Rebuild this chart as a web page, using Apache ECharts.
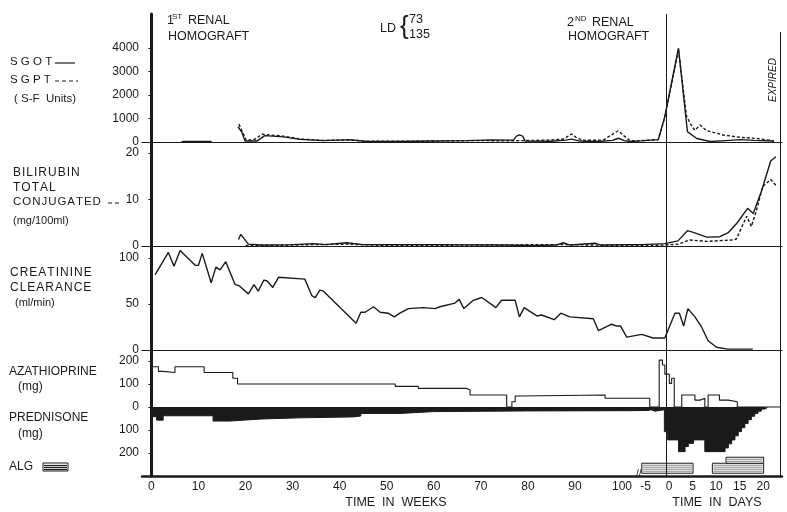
<!DOCTYPE html>
<html>
<head>
<meta charset="utf-8">
<script src="https://cdn.jsdelivr.net/npm/echarts@6/dist/echarts.min.js"></script>
<style>
html,body{margin:0;padding:0;background:#fff;}
#chart{width:787px;height:512px;}
</style>
</head>
<body>
<div id="chart"></div>
<script>
// the day scale follows the week scale: day d sits at DAY0 + d
var DAY0 = 110;

var weekTicks = [0, 10, 20, 30, 40, 50, 60, 70, 80, 90, 100];
var dayTicks = [-5, 0, 5, 10, 15, 20];

// SGOT / SGPT (S-F units)
var sgotWeeks = [[6.4,20],[12.8,20],[15,'-'],[18.4,650],[19.2,420],[19.9,40],[22.4,40],[24.1,270],[28,220],[31.6,110],[36.5,60],[42.2,100],[45.8,20],[52,20],[60,40],[67,60],[72,90],[76.9,80],[77.6,250],[78.2,300],[78.9,250],[79.4,40],[85,30],[88,80],[89.3,120],[91,40],[95,20],[98,70],[99.2,160],[100.5,60],[101.7,20]];
var sgotDays = [[-6,50],[-2.3,100],[-0.9,1080],[2.0,3990],[3.9,440],[5.9,150],[8.7,20],[12,60],[15.1,100],[18,70],[22.3,40]];
var sgptWeeks = [[18.6,760],[19.4,400],[20.2,60],[22,120],[23.5,330],[28,250],[31.6,130],[36.5,70],[42.2,80],[45.8,30],[55,30],[62,50],[70,60],[76,50],[79,60],[84,80],[87.5,120],[89.3,340],[90.5,160],[92,70],[96,80],[99.2,480],[100.5,250],[101.7,60]];
var sgptDays = [[-6,60],[-2.3,100],[-0.9,1050],[2.0,3950],[3.7,1100],[4.9,650],[5.5,500],[6.6,720],[8,480],[11.5,300],[15,200],[18.6,150],[22.3,50]];

// bilirubin (mg/100ml)
var biliWeeks = [[18.5,1.4],[19.0,2.5],[20.6,0.4],[23.5,0.2],[30,0.3],[34.4,0.5],[37,0.3],[41.5,0.7],[45,0.3],[60,0.3],[75,0.2],[81.2,0.1],[86,0.2],[87.5,0.7],[89,0.2],[94.3,0.6],[95.5,0.2],[101,0.3]];
var biliDays = [[-6,0.3],[-0.9,0.5],[1.9,1.1],[3.9,3.3],[5,3.0],[8,1.9],[10.8,2.0],[12.6,2.9],[14.4,4.9],[16.7,8.1],[17.9,7.0],[19.7,12.0],[21.6,18.3],[22.7,19.2]];
var conjWeeks = [[20,0.1],[25,0.1],[30,0.2],[34.4,0.3],[41.5,0.4],[50,0.1],[87.5,0.3],[101,0.1]];
var conjDays = [[-6,0.1],[-0.9,0.2],[1.9,0.4],[4.4,1.3],[8,1.0],[13.6,1.3],[14.3,1.5],[16.5,6.4],[17.5,4.2],[18.5,7.4],[19.9,12.8],[21.6,14.3],[22.9,12.8]];

// creatinine clearance (ml/min)
var creatWeeks = [[0.8,82],[3.6,106],[4.8,91],[6.1,108],[9.3,92],[10.0,92],[10.8,105],[12.7,73],[13.7,90],[14.6,87],[15.8,96],[17.8,71],[18.6,70],[20.6,61],[21.8,71],[22.7,64],[23.9,76],[24.6,75],[25.8,68],[27.0,79],[32.6,77],[34.1,59],[34.8,57],[35.8,65],[36.5,64],[43.5,29],[44.5,41],[45.4,41],[47.2,47],[48.6,41],[50.3,40],[51.6,36],[52.8,40],[54.6,45],[57.8,46],[60.3,45],[61.3,47],[64.5,51],[65.4,55],[66.4,45],[68.4,54],[70.2,57],[73.2,46],[74.4,54],[77.3,54],[78.2,36],[79.2,46],[81.9,37],[82.9,38],[85.6,33],[87.0,40],[88.9,36],[93.9,34],[95.0,21],[97.8,28],[98.9,26],[99.7,26],[101.0,14]];
var creatDays = [[-5.8,17],[-3.4,13],[-0.9,13],[1.25,40],[2.2,40],[3.1,26],[4.0,45],[5.5,36],[6.9,25],[8.3,10],[10.1,3],[12.5,1],[17.8,1]];

// azathioprine and prednisone (mg), each value holds until the next point
var azaWeeks = [[0,175],[1.5,155],[2.5,150],[5,175],[11.2,150],[17.3,125],[18.3,100],[51.8,90],[56.7,81],[67,74],[67.7,52],[75.5,0],[76.6,23],[77.3,48],[78,52],[96.4,38]];
var azaDays = [[-4.1,0],[-2.1,204],[-1.4,183],[-0.9,143],[0.05,103],[0.55,125],[1.1,0],[2.7,52],[5.5,30],[6.6,38],[7.6,0],[8.3,52],[10.7,30],[12.6,23],[14.5,0],[23.6,0]];
var predWeeks = [[0,42],[1.1,57],[2.5,38],[13.1,61],[16.7,57],[19.6,52],[23.5,47],[31.5,43],[42.9,39],[44.5,28],[52.8,20],[60,17],[80,16],[101.5,15]];
var predDays = [[-4.5,12],[-3.8,18],[-3,12],[-1.0,107],[-0.3,143],[2.0,194],[3.4,172],[4.1,158],[5.2,143],[7.6,194],[11.9,178],[12.6,160],[13.3,143],[14.0,125],[14.7,107],[15.4,90],[16.1,72],[16.8,55],[17.5,40],[18.2,28],[18.9,18],[19.6,9],[20.3,4],[20.8,0]];

// ALG courses: [first day, last day, row]
var algCourses = [[-5.8,5.1,0],[9.2,20.1,0],[12.1,20.1,1]];

var INK = '#1a1a1a';
var FONT = '"Liberation Sans", Arial, sans-serif';
var HS = '\u200A';

function join(weeks, days, sign) {
    sign = sign || 1;
    var out = weeks.map(function (p) { return [p[0], p[1] === '-' ? '-' : sign * p[1]]; });
    days.forEach(function (p) { out.push([DAY0 + p[0], sign * p[1]]); });
    return out;
}
function spaced(s) { return s.split('').join(HS); }

var grids = [
    {top: 14, height: 128},
    {top: 142, height: 104},
    {top: 246, height: 104},
    {top: 350, height: 126}
];
var yRanges = [[0, 5447], [0, 22.37], [0, 113], [-300, 248]];
var yTicks = [[0,1000,2000,3000,4000], [0,10,20], [0,50,100], [-200,-100,0,100,200]];

var xAxes = [], yAxes = [];
grids.forEach(function (g, i) {
    g.left = 142; g.width = 640;
    xAxes.push({
        type: 'value', gridIndex: i, min: -2, max: 134,
        axisLine: {show: true, onZero: false, lineStyle: {color: INK, width: i === 3 ? 2.5 : 1}},
        axisTick: {show: false},
        splitLine: {show: false},
        axisLabel: {
            show: i === 3, color: INK, fontFamily: FONT, fontSize: 12, margin: 5,
            customValues: weekTicks.concat(dayTicks.map(function (d) { return DAY0 + d; })),
            formatter: function (v) { return v > 102 ? String(Math.round(v - DAY0)) : String(v); }
        }
    });
    yAxes.push({
        type: 'value', gridIndex: i, min: yRanges[i][0], max: yRanges[i][1],
        axisLine: {show: true, lineStyle: {color: INK, width: 3}},
        axisTick: {show: true, length: 3, customValues: yTicks[i], lineStyle: {color: INK}},
        splitLine: {show: false},
        axisLabel: {
            color: INK, fontFamily: FONT, fontSize: 12, margin: 3,
            customValues: yTicks[i],
            formatter: function (v) { return String(Math.abs(v)); }
        }
    });
});

function vLines(top) {
    var data = [{xAxis: 0}, {xAxis: DAY0 - 0.5}];
    if (top != null) {
        data.push([{coord: [DAY0 + 23.6, top]}, {coord: [DAY0 + 23.6, 0]}]);
    } else {
        data.push({xAxis: DAY0 + 23.6});
    }
    return {
        silent: true, symbol: 'none', label: {show: false},
        lineStyle: {color: INK, width: 1, type: 'solid'},
        data: data
    };
}

function line(name, data, idx, dashed, extra) {
    var s = {
        name: name, type: 'line', xAxisIndex: idx, yAxisIndex: idx,
        data: data, showSymbol: false, symbol: 'none', connectNulls: false,
        lineStyle: {color: INK, width: 1.4, type: dashed ? [3, 2] : 'solid'}
    };
    for (var k in extra) s[k] = extra[k];
    return s;
}

var series = [
    line('SGOT', join(sgotWeeks, sgotDays), 0, false, {markLine: vLines(4680)}),
    line('SGPT', join(sgptWeeks, sgptDays), 0, true),
    line('Bilirubin total', join(biliWeeks, biliDays), 1, false, {markLine: vLines()}),
    line('Bilirubin conjugated', join(conjWeeks, conjDays), 1, true),
    line('Creatinine clearance', join(creatWeeks, creatDays), 2, false, {markLine: vLines()}),
    line('Prednisone', join(predWeeks, predDays, -1), 3, false, {
        step: 'end', areaStyle: {color: INK, opacity: 1},
        lineStyle: {color: INK, width: 1}, markLine: vLines()
    }),
    line('Azathioprine', join(azaWeeks, azaDays), 3, false, {
        step: 'end', lineStyle: {color: INK, width: 1.1}
    }),
    {
        name: 'ALG', type: 'custom', xAxisIndex: 3, yAxisIndex: 3,
        data: algCourses,
        renderItem: function (params, api) {
            var a = api.coord([DAY0 + api.value(0), -288]);
            var b = api.coord([DAY0 + api.value(1), -288]);
            var row = api.value(2);
            var h = row === 0 ? 10 : 6;
            var y = a[1] - (row === 0 ? 0 : 10) - h;
            var kids = [{
                type: 'rect', shape: {x: a[0], y: y, width: b[0] - a[0], height: h},
                style: {fill: '#fff', stroke: INK, lineWidth: 1}
            }];
            for (var yy = y + 2; yy < y + h - 0.5; yy += 2) {
                kids.push({
                    type: 'line', shape: {x1: a[0] + 1, y1: yy, x2: b[0] - 1, y2: yy},
                    style: {stroke: '#555', lineWidth: 0.7}
                });
            }
            return {type: 'group', children: kids};
        }
    }
];

function txt(s, x, y, size, opt) {
    opt = opt || {};
    return {
        type: 'text', x: x, y: y, rotation: opt.rot || 0, silent: true,
        style: {
            text: s, fill: INK,
            font: (opt.style || 'normal') + ' ' + (opt.weight || 'normal') + ' ' + size + 'px ' + FONT,
            textAlign: opt.align || 'left', textVerticalAlign: 'middle',
            align: opt.align || 'left', verticalAlign: 'middle'
        }
    };
}
function seg(x1, x2, y, dash) {
    return {
        type: 'line', silent: true, shape: {x1: x1, y1: y, x2: x2, y2: y},
        style: {stroke: INK, lineWidth: 1.2, lineDash: dash || null}
    };
}

var graphics = [
    txt('1', 167, 21, 12.5), txt('ST', 172, 17, 8), txt('RENAL', 188, 21, 12.5),
    txt('HOMOGRAFT', 168, 37, 12.5),
    txt('LD', 380, 29, 12.5), txt('{', 400, 27, 26), txt('73', 409, 20, 12.5), txt('135', 409, 35, 12.5),
    txt('2', 567, 23, 12.5), txt('ND', 575, 19, 8), txt('RENAL', 592, 23, 12.5),
    txt('HOMOGRAFT', 568, 37, 12.5),
    txt('EXPIRED', 773, 80, 10, {rot: Math.PI / 2, align: 'center', style: 'italic'}),
    txt('S G O T', 10, 62, 11.5), seg(55, 75, 63),
    txt('S G P T', 10, 80, 11.5), seg(55, 78, 81, [4, 3]),
    txt('( S-F  Units)', 14, 99, 11.5),
    txt(spaced('BILIRUBIN'), 13, 173, 12), txt(spaced('TOTAL'), 13, 188, 12), txt(spaced('CONJUGATED'), 13, 202, 11.5),
    seg(108, 119, 203, [4, 3]),
    txt('(mg/100ml)', 13, 221, 11),
    txt(spaced('CREATININE'), 10, 273, 12), txt(spaced('CLEARANCE'), 10, 288, 12), txt('(ml/min)', 15, 303, 11),
    txt('AZATHIOPRINE', 9, 372, 12), txt('(mg)', 18, 387, 12),
    txt('PREDNISONE', 9, 418, 12), txt('(mg)', 18, 434, 12),
    txt('ALG', 9, 467, 12),
    {type: 'rect', silent: true, shape: {x: 43, y: 463, width: 25, height: 8}, style: {fill: '#fff', stroke: INK, lineWidth: 1}},
    seg(44, 67, 465.5), seg(44, 67, 467.5), seg(44, 67, 469.5),
    txt('//', 636, 474, 10),
    txt('TIME  IN  WEEKS', 396, 503, 12.5, {align: 'center'}),
    txt('TIME  IN  DAYS', 717, 503, 12.5, {align: 'center'})
];

var chart = echarts.init(document.getElementById('chart'));
chart.setOption({
    animation: false,
    backgroundColor: '#fff',
    grid: grids,
    xAxis: xAxes,
    yAxis: yAxes,
    series: series,
    graphic: graphics
});
</script>
</body>
</html>
